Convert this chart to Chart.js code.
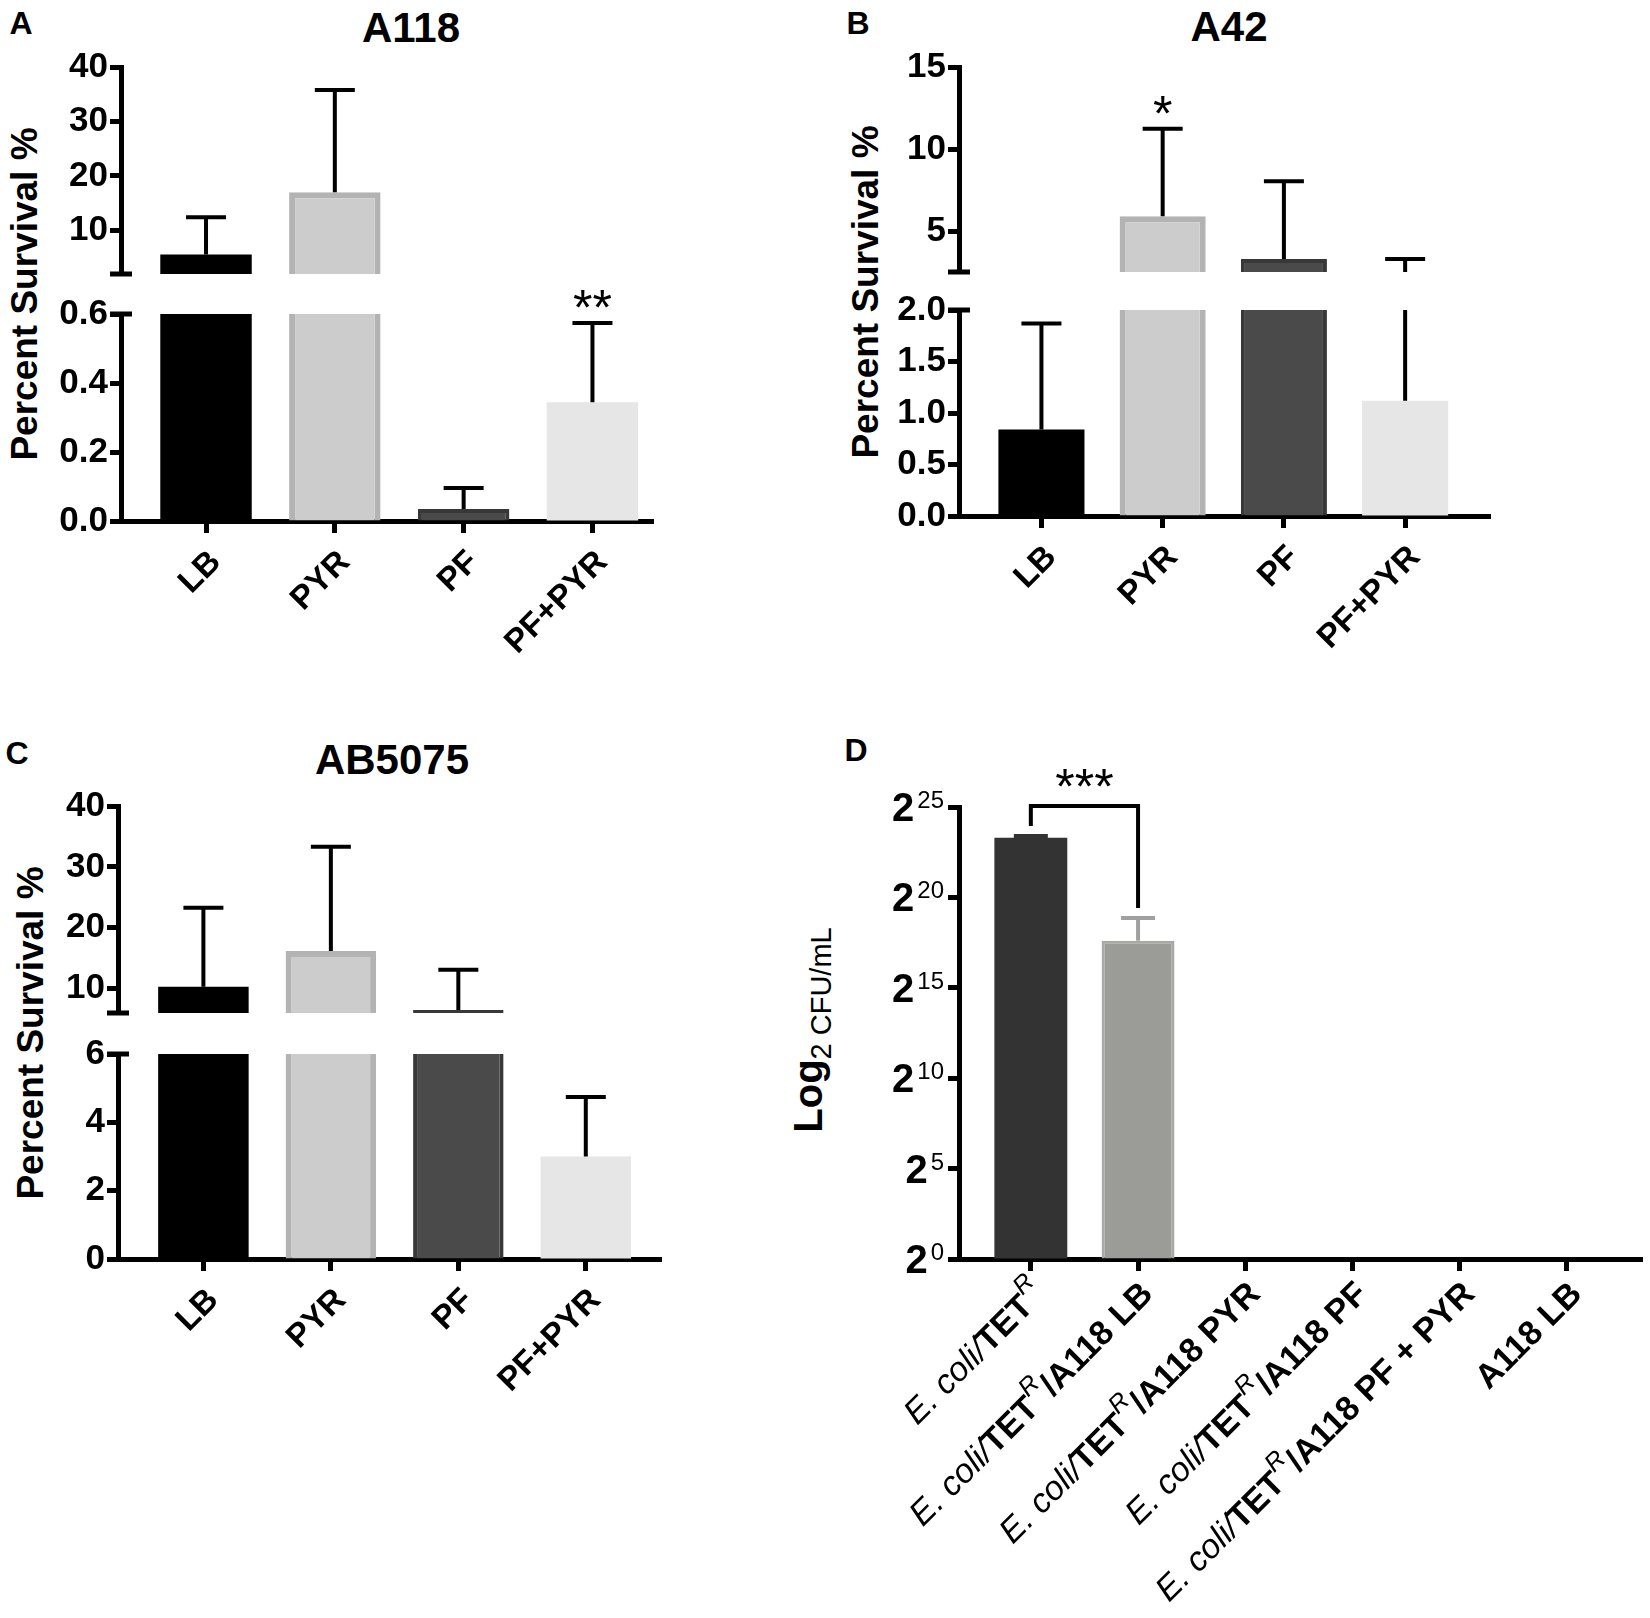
<!DOCTYPE html>
<html>
<head>
<meta charset="utf-8">
<script src="https://cdn.jsdelivr.net/npm/chart.js@4.4.1/dist/chart.umd.min.js"></script>
<style>
  body { margin: 0; background: #fff; }
  #fig { position: relative; width: 1650px; height: 1618px; overflow: hidden;
         font-family: "Liberation Sans", Arial, sans-serif; color: #000; }
  canvas { position: absolute; }
  .txt { position: absolute; font-weight: bold; white-space: nowrap; transform: translate(-50%, -50%); }
  .ytitle { position: absolute; font-weight: bold; white-space: nowrap; font-size: 37px;
            transform: translate(-50%, -50%) rotate(-90deg); }
</style>
</head>
<body>
<div id="fig">
  <div class="txt" style="left:21px;top:23px;font-size:32px">A</div>
  <div class="txt" style="left:858px;top:23px;font-size:32px">B</div>
  <div class="txt" style="left:17px;top:753px;font-size:32px">C</div>
  <div class="txt" style="left:856px;top:750px;font-size:32px">D</div>
  <div class="txt" style="left:411px;top:28px;font-size:42px">A118</div>
  <div class="txt" style="left:1229px;top:27px;font-size:42px">A42</div>
  <div class="txt" style="left:392px;top:760px;font-size:42px">AB5075</div>
  <div class="ytitle" style="left:25px;top:294px">Percent Survival %</div>
  <div class="ytitle" style="left:866px;top:292px">Percent Survival %</div>
  <div class="ytitle" style="left:31px;top:1033px">Percent Survival %</div>
  <div class="ytitle" style="left:808px;top:1030px;font-size:40px">Log<span style="font-size:29px;font-weight:normal;position:relative;top:9px">2 CFU/mL</span></div>
</div>
<script>
// ---- data ----
const cats = ['LB', 'PYR', 'PF', 'PF+PYR'];

const a118Mean = [5.6, 17.0, 0.035, 0.344];
const a118Err = [6.8, 18.8, 0.061, 0.23];
const a118Stars = ['', '', '', '**'];
const a118UpperTicks = [10, 20, 30, 40];
const a118LowerTicks = [0, 0.2, 0.4, 0.6];

const a42Mean = [0.84, 5.9, 3.3, 1.12];
const a42Err = [1.03, 5.34, 4.73, 2.18];
const a42Stars = ['', '*', '', ''];
const a42UpperTicks = [5, 10, 15];
const a42LowerTicks = [0, 0.5, 1.0, 1.5, 2.0];

const ab5075Mean = [10.3, 16.2, 6.5, 3.0];
const ab5075Err = [13.0, 17.1, 6.6, 1.74];
const ab5075Stars = ['', '', '', ''];
const ab5075UpperTicks = [10, 20, 30, 40];
const ab5075LowerTicks = [0, 2, 4, 6];

// ~..~ italic, ^..^ superscript
const dCats = ['~E. coli/~TET^R^', '~E. coli/~TET^R^/A118 LB', '~E. coli/~TET^R^/A118 PYR',
               '~E. coli/~TET^R^/A118 PF', '~E. coli/~TET^R^/A118 PF + PYR', 'A118 LB'];
const dLog2Mean = [23.3, 17.6, 0, 0, 0, 0];
const dLog2Err = [0.1, 1.26, 0, 0, 0, 0];
const dTicks = [0, 5, 10, 15, 20, 25];
const dBracket = [0, 1, '***'];

// ---- drawing ----
const FONT = '"Liberation Sans", Arial, sans-serif';
const fig = document.getElementById('fig');
const barFill = ['#000000', '#cccccc', '#4a4a4a', '#e6e6e6'];
const barEdge = ['#000000', '#b3b3b3', '#383838', '#e6e6e6'];
const barEdgeW = [0, 6, 4, 0];

function drawRich(ctx, str, x, y) {
  const segs = str.split(/(~[^~]*~|\^[^^]*\^)/).filter(Boolean).map(s => {
    if (s[0] === '~') return {t: s.slice(1, -1), f: `italic 34px ${FONT}`, dy: 0};
    if (s[0] === '^') return {t: s.slice(1, -1), f: `italic 25px ${FONT}`, dy: -15};
    return {t: s, f: `bold 34px ${FONT}`, dy: 0};
  });
  let total = 0;
  segs.forEach(s => { ctx.font = s.f; s.w = ctx.measureText(s.t).width; total += s.w; });
  ctx.save();
  ctx.translate(x, y);
  ctx.rotate(-Math.PI / 4);
  ctx.textBaseline = 'middle';
  ctx.textAlign = 'left';
  let cx = -total;
  segs.forEach(s => { ctx.font = s.f; ctx.fillText(s.t, cx, s.dy); cx += s.w; });
  ctx.restore();
}

function makeChart(o) {
  const YW = 110, PT = 60, PR = 40;
  const XB = o.xAxis ? (o.xb || 190) : 40;
  const b = o.box;
  const w = b.r - b.l + YW + PR, h = b.b - b.t + PT + XB;
  const c = document.createElement('canvas');
  c.width = w; c.height = h;
  c.style.left = (b.l - YW) + 'px';
  c.style.top = (b.t - PT) + 'px';
  fig.appendChild(c);

  return new Chart(c, {
    type: 'bar',
    data: {
      datasets: [{
        data: o.mean.map((v, i) => ({x: i, y: v})),
        backgroundColor: o.fill,
        borderColor: o.edge,
        borderWidth: o.edgeW,
        borderSkipped: 'start',
        categoryPercentage: o.barFrac,
        barPercentage: 1
      }]
    },
    options: {
      responsive: false,
      animation: false,
      devicePixelRatio: 1,
      layout: {padding: {left: 0, top: PT, right: PR, bottom: o.xAxis ? 0 : XB}},
      plugins: {legend: {display: false}, tooltip: {enabled: false}},
      scales: {
        x: {
          type: 'linear', min: o.xmin, max: o.xmax, offset: false, display: o.xAxis, z: 1,
          afterBuildTicks: s => { s.ticks = o.mean.map((v, i) => ({value: i})); },
          afterFit: s => { if (o.xAxis) s.height = XB; },
          grid: {offset: false, drawOnChartArea: false, tickLength: 12, tickWidth: 5, tickColor: '#000'},
          border: {color: '#000', width: 5},
          ticks: {
            display: !o.richX, autoSkip: false, minRotation: 45, maxRotation: 45,
            labelOffset: 10, padding: 10, color: '#000',
            font: {family: FONT, size: 33, weight: 'bold'},
            callback: v => o.cats[v]
          }
        },
        y: {
          min: o.y.min, max: o.y.max, z: 1,
          afterBuildTicks: s => { s.ticks = o.y.ticks.map(v => ({value: v})); },
          afterFit: s => { s.width = YW; },
          grid: {drawOnChartArea: false, tickLength: 11, tickWidth: 5, tickColor: '#000'},
          border: {color: '#000', width: 5},
          ticks: {
            display: !o.y.custom, color: '#000', padding: 2,
            font: {family: FONT, size: 35, weight: 'bold'},
            callback: v => (o.y.fmt ? o.y.fmt(v) : String(v))
          }
        }
      }
    },
    plugins: [{
      id: 'extras',
      afterDraw(chart) {
        const {ctx, chartArea: a, scales: {x, y}} = chart;
        // error bars, clipped to this segment
        ctx.save();
        ctx.beginPath();
        ctx.rect(a.left, a.top, a.right - a.left, a.bottom - a.top);
        ctx.clip();
        ctx.lineWidth = 4;
        o.mean.forEach((m, i) => {
          const e = o.err[i];
          if (!e) return;
          const px = x.getPixelForValue(i);
          const y0 = y.getPixelForValue(m), y1 = y.getPixelForValue(m + e);
          ctx.strokeStyle = o.errColor[i];
          ctx.beginPath();
          ctx.moveTo(px, y0); ctx.lineTo(px, y1);
          ctx.moveTo(px - o.cap, y1); ctx.lineTo(px + o.cap, y1);
          ctx.stroke();
        });
        ctx.restore();

        // significance stars above error caps
        ctx.save();
        ctx.fillStyle = '#000';
        ctx.font = `50px ${FONT}`;
        ctx.textAlign = 'center';
        ctx.textBaseline = 'alphabetic';
        (o.stars || []).forEach((s, i) => {
          if (!s) return;
          const top = o.mean[i] + o.err[i];
          if (top < y.min || top > y.max) return;
          ctx.fillText(s, x.getPixelForValue(i), y.getPixelForValue(top) + 2);
        });
        ctx.restore();

        // broken-axis end caps
        if (o.breakAt) {
          const yy = o.breakAt === 'top' ? a.top : a.bottom;
          ctx.save();
          ctx.strokeStyle = '#000';
          ctx.lineWidth = 5;
          ctx.beginPath();
          ctx.moveTo(a.left - 11, yy); ctx.lineTo(a.left + 11, yy);
          ctx.stroke();
          ctx.restore();
        }
        if (o.extra) o.extra(chart);
      }
    }]
  });
}

function brokenPanel(p) {
  const common = {
    mean: p.mean, err: p.err, stars: p.stars, cats: cats,
    xmin: p.xmin, xmax: p.xmax, fill: barFill, edge: barEdge, edgeW: barEdgeW,
    barFrac: 0.71, cap: 20, errColor: ['#000', '#000', '#000', '#000']
  };
  makeChart(Object.assign({}, common, {box: p.upper, y: p.upperY, xAxis: false, breakAt: 'bottom'}));
  makeChart(Object.assign({}, common, {box: p.lower, y: p.lowerY, xAxis: true, breakAt: 'top'}));
}

const int = v => String(v);
const one = v => v.toFixed(1);

brokenPanel({
  mean: a118Mean, err: a118Err, stars: a118Stars, xmin: -0.66, xmax: 3.47,
  upper: {l: 121, r: 653, t: 67, b: 274}, lower: {l: 121, r: 653, t: 314, b: 521},
  upperY: {min: 2, max: 40, ticks: a118UpperTicks, fmt: int},
  lowerY: {min: 0, max: 0.6, ticks: a118LowerTicks, fmt: one}
});

brokenPanel({
  mean: a42Mean, err: a42Err, stars: a42Stars, xmin: -0.68, xmax: 3.70,
  upper: {l: 959, r: 1490, t: 67, b: 272}, lower: {l: 959, r: 1490, t: 310, b: 516},
  upperY: {min: 2.5, max: 15, ticks: a42UpperTicks, fmt: int},
  lowerY: {min: 0, max: 2, ticks: a42LowerTicks, fmt: one}
});

brokenPanel({
  mean: ab5075Mean, err: ab5075Err, stars: ab5075Stars, xmin: -0.67, xmax: 3.59,
  upper: {l: 118, r: 661, t: 806, b: 1013}, lower: {l: 118, r: 661, t: 1054, b: 1259},
  upperY: {min: 6, max: 40, ticks: ab5075UpperTicks, fmt: int},
  lowerY: {min: 0, max: 6, ticks: ab5075LowerTicks, fmt: int}
});

makeChart({
  box: {l: 959, r: 1642, t: 807, b: 1259},
  mean: dLog2Mean, err: dLog2Err, cats: dCats, richX: true,
  xmin: -0.67, xmax: 5.70, xAxis: true, xb: 355,
  fill: ['#333333', '#9b9b97', '#fff', '#fff', '#fff', '#fff'],
  edge: ['#333333', '#a8a8a5', '#fff', '#fff', '#fff', '#fff'],
  edgeW: [0, 3, 0, 0, 0, 0],
  barFrac: 0.68, cap: 17,
  errColor: ['#333333', '#a0a0a0', '#000', '#000', '#000', '#000'],
  y: {min: 0, max: 25, ticks: dTicks, custom: true},
  extra(chart) {
    const {ctx, chartArea: a, scales: {x, y}} = chart;
    ctx.save();
    ctx.fillStyle = '#000';
    // y tick labels 2^n
    dTicks.forEach(v => {
      const py = y.getPixelForValue(v);
      const sup = String(v);
      ctx.textAlign = 'right';
      ctx.textBaseline = 'alphabetic';
      ctx.font = `24px ${FONT}`;
      const sw = ctx.measureText(sup).width;
      ctx.fillText(sup, a.left - 15, py + 1);
      ctx.font = `bold 40px ${FONT}`;
      ctx.fillText('2', a.left - 18 - sw, py + 14);
    });
    // x labels
    dCats.forEach((s, i) => drawRich(ctx, s, x.getPixelForValue(i) + 10, a.bottom + 30));
    // significance bracket
    const [i0, i1, mark] = dBracket;
    const c0 = y.getPixelForValue(dLog2Mean[i0] + dLog2Err[i0]);
    const c1 = y.getPixelForValue(dLog2Mean[i1] + dLog2Err[i1]);
    const x0 = x.getPixelForValue(i0), x1 = x.getPixelForValue(i1);
    const top = Math.min(c0, c1) - 30;
    ctx.strokeStyle = '#000';
    ctx.lineWidth = 4;
    ctx.beginPath();
    ctx.moveTo(x0, c0 - 10); ctx.lineTo(x0, top); ctx.lineTo(x1, top); ctx.lineTo(x1, c1 - 10);
    ctx.stroke();
    ctx.font = `50px ${FONT}`;
    ctx.textAlign = 'center';
    ctx.fillText(mark, (x0 + x1) / 2, top - 2);
    ctx.restore();
  }
});
</script>
</body>
</html>
